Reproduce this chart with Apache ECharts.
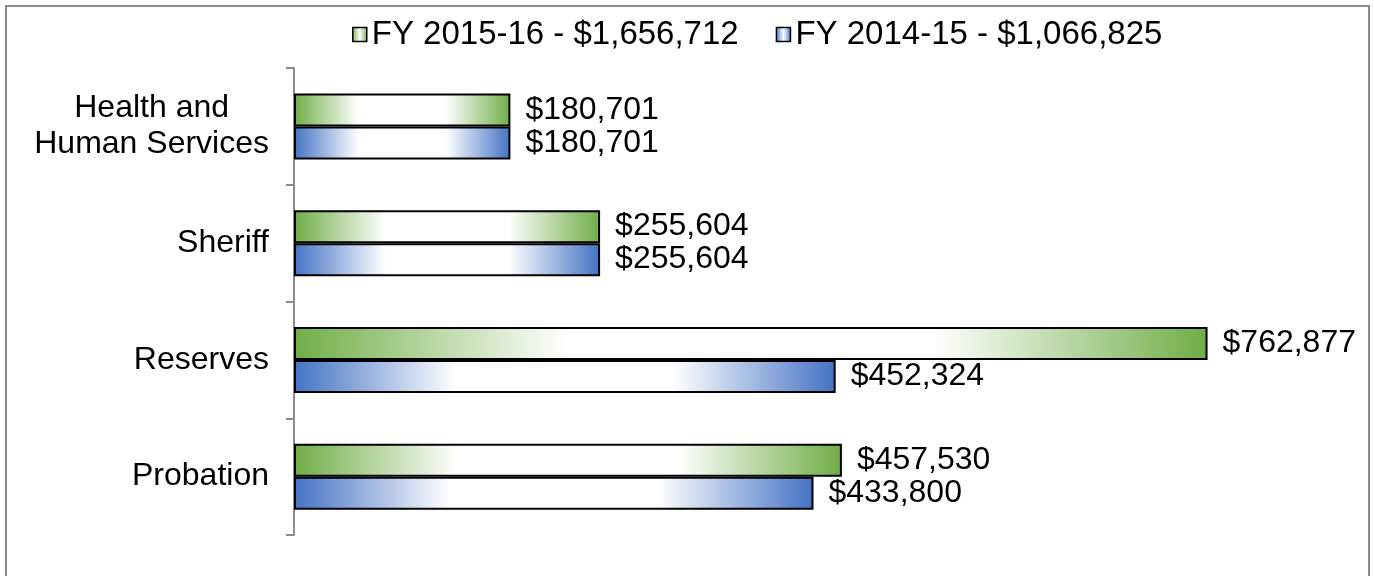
<!DOCTYPE html>
<html>
<head>
<meta charset="utf-8">
<script src="https://cdn.jsdelivr.net/npm/echarts@6/dist/echarts.min.js"></script>
<style>
  html, body { margin: 0; padding: 0; background: #fff; }
  #chart { width: 1374px; height: 576px; }
</style>
</head>
<body>
<div id="chart"></div>
<script>
// data
var categories = ['Health and\nHuman Services', 'Sheriff', 'Reserves', 'Probation'];
var seriesNames = ['FY 2015-16 - $1,656,712', 'FY 2014-15 - $1,066,825'];
var fy1516 = [180701, 255604, 762877, 457530];
var fy1415 = [180701, 255604, 452324, 433800];
var colors = ['#70ad47', '#4472c4'];

var FONT = "'Liberation Sans', Arial, sans-serif";

function money(v) {
  return '$' + String(v).replace(/\B(?=(\d{3})+(?!\d))/g, ',');
}

// dark edges, white middle (like the Excel gradient fill)
function fill(c, w0, w1) {
  return new echarts.graphic.LinearGradient(0, 0, 1, 0, [
    { offset: 0, color: c },
    { offset: w0, color: '#ffffff' },
    { offset: w1, color: '#ffffff' },
    { offset: 1, color: c }
  ]);
}

function barSeries(name, data, color) {
  return {
    name: name,
    type: 'bar',
    data: data,
    barWidth: 33,
    barGap: '0%',
    itemStyle: { color: fill(color, 0.3, 0.7), borderColor: '#000', borderWidth: 2 },
    label: {
      show: true,
      position: 'right',
      distance: 15,
      color: '#000',
      fontFamily: FONT,
      fontSize: 32,
      formatter: function (p) { return money(p.value); }
    }
  };
}

var chart = echarts.init(document.getElementById('chart'));
chart.setOption({
  animation: false,
  textStyle: { fontFamily: FONT },
  graphic: [{
    type: 'rect',
    shape: { x: 6, y: 6, width: 1363, height: 620 },
    style: { fill: 'none', stroke: '#8a8a8a', lineWidth: 2 },
    silent: true
  }],
  legend: {
    top: 18,
    left: 352,
    padding: 0,
    itemWidth: 14,
    itemHeight: 14,
    itemGap: 37,
    icon: 'rect',
    textStyle: { fontFamily: FONT, fontSize: 33, color: '#000' },
    data: seriesNames.map(function (n, i) {
      return {
        name: n,
        itemStyle: { color: fill(colors[i], 0.5, 0.5), borderColor: '#000', borderWidth: 1.5 }
      };
    })
  },
  grid: { left: 294, right: 122, top: 68, bottom: 41 },
  xAxis: {
    type: 'value',
    min: 0,
    max: 800000,
    show: false
  },
  yAxis: {
    type: 'category',
    inverse: true,
    data: categories,
    axisLine: { show: true, lineStyle: { color: '#8c8c8c', width: 2 } },
    axisTick: { show: true, length: 8, lineStyle: { color: '#8c8c8c', width: 2 } },
    axisLabel: {
      margin: 25,
      color: '#000',
      fontFamily: FONT,
      fontSize: 32,
      lineHeight: 36,
      formatter: function (v) { return '{c|' + v + '}'; },
      rich: { c: { align: 'center', fontFamily: FONT, fontSize: 32, lineHeight: 36, color: '#000' } }
    },
    splitLine: { show: false }
  },
  series: [
    barSeries(seriesNames[0], fy1516, colors[0]),
    barSeries(seriesNames[1], fy1415, colors[1])
  ]
});
</script>
</body>
</html>
